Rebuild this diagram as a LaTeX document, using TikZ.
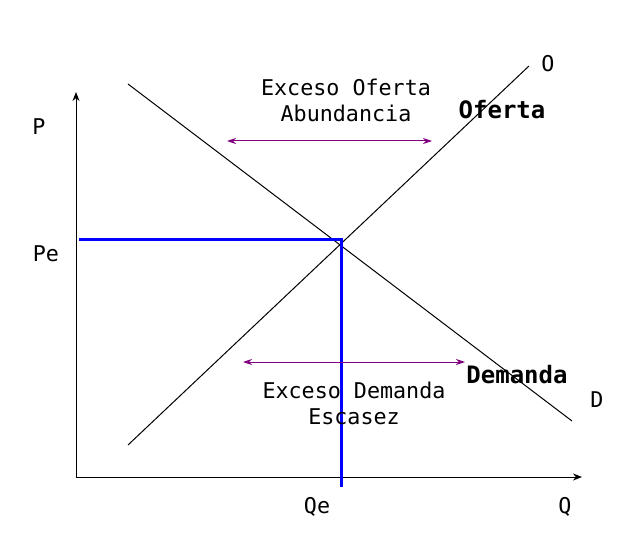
\documentclass[tikz,border=0pt]{standalone}
\usepackage{fontspec}
\setmonofont{DejaVu Sans Mono}
\usetikzlibrary{arrows.meta}
\tikzset{
  lbl/.style={font=\ttfamily\fontsize{21.7}{26}\selectfont, inner sep=0pt, align=center},
  blbl/.style={font=\ttfamily\bfseries\fontsize{24}{28}\selectfont, inner sep=0pt},
  axis/.style={line width=1pt, -{Stealth[length=9pt,width=7pt]}},
  curve/.style={line width=1pt},
  excess/.style={line width=1pt, draw={rgb,255:red,128;green,0;blue,128}, {Stealth[length=9pt,width=6pt]}-{Stealth[length=9pt,width=6pt]}},
  eq/.style={line width=3pt, draw=blue}
}
\begin{document}
\begin{tikzpicture}[x=1pt,y=-1pt]
\useasboundingbox (0,0) rectangle (640,540);
\coordinate (o) at (76,477);
\coordinate (ytop) at (76,92);
\coordinate (xend) at (582,477);
\draw[axis] (o) -- (ytop);
\draw[axis] (o) -- (xend);
\coordinate (s1) at (128,445);
\coordinate (s2) at (529,66);
\coordinate (d1) at (128,84);
\coordinate (d2) at (572,421);
\draw[curve] (s1) -- (s2);
\draw[curve] (d1) -- (d2);
\coordinate (pe) at (79,240);
\coordinate (e) at (341,240);
\coordinate (qe) at (341,487);
\draw[eq] (pe) -- (e) -- (qe);
\coordinate (a1) at (227,141);
\coordinate (a2) at (432,141);
\draw[excess] (a1) -- (a2);
\coordinate (b1) at (243,362);
\coordinate (b2) at (465,362);
\draw[excess] (b1) -- (b2);
\node[lbl] (P) at (39,127) {P};
\node[lbl] (Pe) at (46,254) {Pe};
\node[lbl] (Qe) at (317,507) {Qe};
\node[lbl] (Q) at (565,507) {Q};
\node[lbl] (O) at (548,64) {O};
\node[lbl] (D) at (597,400) {D};
\node[blbl] (of) at (502,110) {Oferta};
\node[blbl] (dem) at (517,375) {Demanda};
\node[lbl] (eo) at (346,100) {Exceso Oferta\\Abundancia};
\node[lbl] (ed) at (354,403) {Exceso Demanda\\Escasez};
\end{tikzpicture}
\end{document}
